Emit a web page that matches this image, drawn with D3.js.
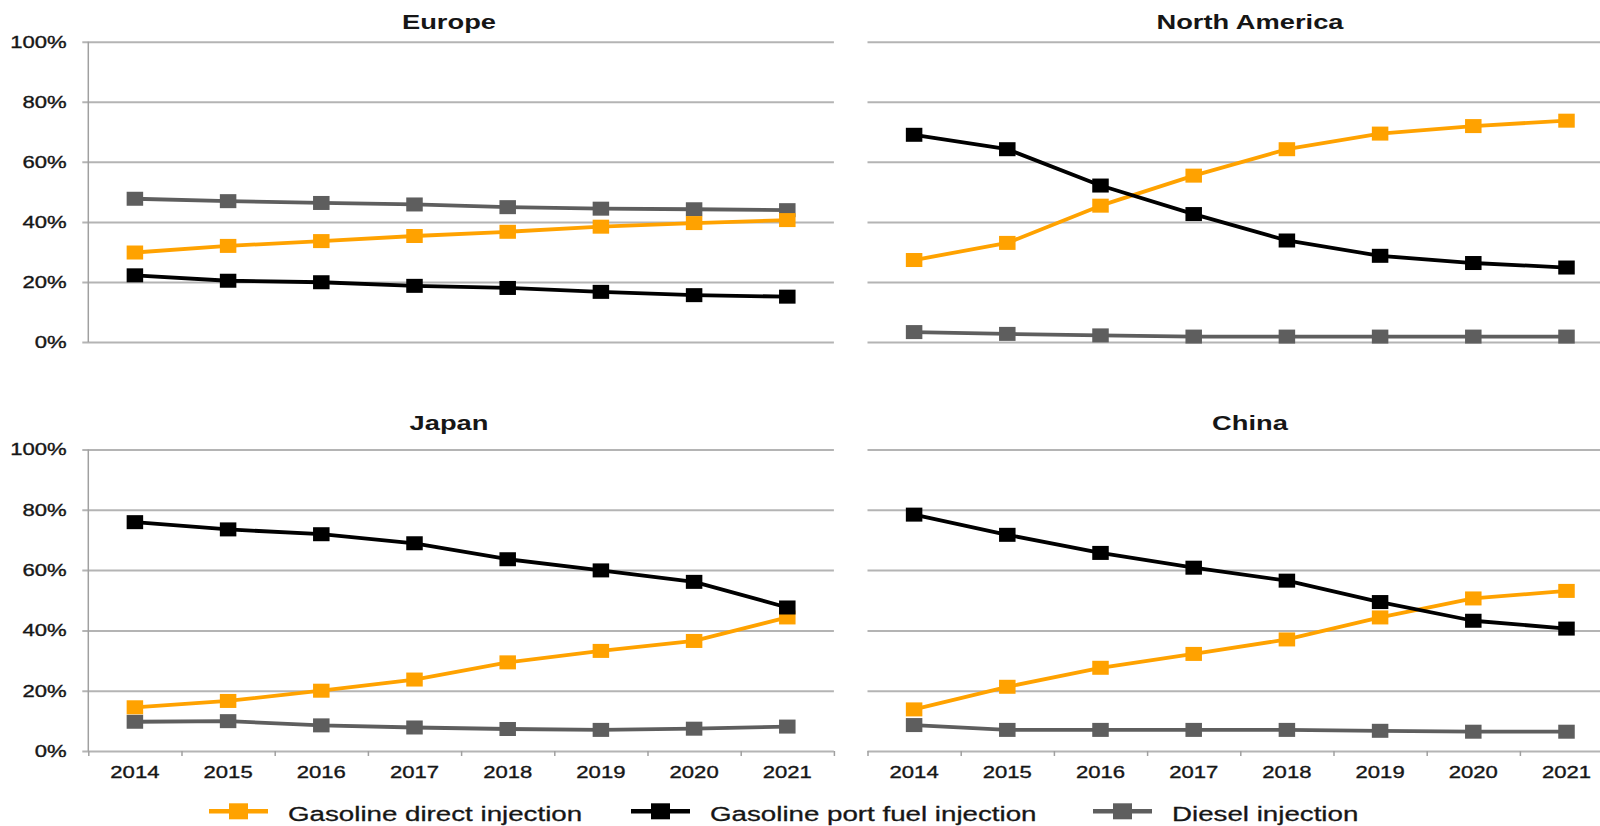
<!DOCTYPE html>
<html>
<head>
<meta charset="utf-8">
<style>
    body { margin: 0; background: #fff; }
    svg { display: block; }
    text { font-family: "Liberation Sans", Arial, sans-serif; fill: #161616; }
    .grid line { stroke: #b4b4b4; stroke-width: 2; }
    .grid .domain { display: none; }
    .ticks line { stroke: #a0a0a0; stroke-width: 1.5; }
    .ticks .domain { display: none; }
    .labels .domain { display: none; }
    .labels text { font-size: 17px; stroke: #161616; stroke-width: 0.35; }
    .title { font-size: 21px; font-weight: bold; }
    .legend-label { font-size: 21px; stroke: #161616; stroke-width: 0.3; }
</style>
</head>
<body>
<svg width="1600" height="826"></svg>

<script src="https://d3js.org/d3.v7.min.js"></script>
<script>
    // data (% of new vehicles)
    const years = [2014, 2015, 2016, 2017, 2018, 2019, 2020, 2021];
    const yTicks = [0, 20, 40, 60, 80, 100];
    const seriesNames = ["Gasoline direct injection", "Gasoline port fuel injection", "Diesel injection"];
    const seriesColors = ["#ffa200", "#000000", "#5e5e5e"];

    const europeDirect = [29.8, 32.0, 33.6, 35.3, 36.7, 38.4, 39.6, 40.6];
    const europePort = [22.2, 20.4, 19.9, 18.7, 18.0, 16.7, 15.6, 15.1];
    const europeDiesel = [47.7, 46.9, 46.3, 45.8, 44.9, 44.4, 44.2, 43.9];

    const naDirect = [27.3, 33.0, 45.4, 55.4, 64.2, 69.4, 71.9, 73.7];
    const naPort = [69.0, 64.2, 52.1, 42.6, 33.8, 28.7, 26.3, 24.8];
    const naDiesel = [3.3, 2.7, 2.2, 1.8, 1.8, 1.8, 1.8, 1.8];

    const japanDirect = [14.5, 16.6, 20.0, 23.7, 29.4, 33.2, 36.5, 44.3];
    const japanPort = [75.9, 73.5, 71.9, 68.9, 63.6, 59.9, 56.1, 47.6];
    const japanDiesel = [9.7, 9.9, 8.5, 7.8, 7.3, 7.0, 7.4, 8.1];

    const chinaDirect = [13.8, 21.3, 27.6, 32.2, 37.0, 44.3, 50.6, 53.1];
    const chinaPort = [78.4, 71.7, 65.7, 60.8, 56.5, 49.4, 43.2, 40.6];
    const chinaDiesel = [8.6, 7.0, 7.0, 7.0, 7.0, 6.7, 6.4, 6.4];

    // layout
    const stretch = 1.3; // the source picture is stretched sideways
    const colX = [88.3, 867.5];
    const panelW = 745.6;
    const rows = [{ top: 41.7, bottom: 342, titleY: 28.6 }, { top: 449.5, bottom: 751, titleY: 429.6 }];
    const titleX = [449, 1250];
    const markW = 16.5, markH = 14;

    const panels = [
        { name: "Europe", col: 0, row: 0, data: [europeDirect, europePort, europeDiesel] },
        { name: "North America", col: 1, row: 0, data: [naDirect, naPort, naDiesel] },
        { name: "Japan", col: 0, row: 1, data: [japanDirect, japanPort, japanDiesel] },
        { name: "China", col: 1, row: 1, data: [chinaDirect, chinaPort, chinaDiesel] }
    ];

    const svg = d3.select("svg");

    panels.forEach(p => {
        const x0 = colX[p.col];
        const r = rows[p.row];
        const g = svg.append("g").attr("class", "panel");

        const x = d3.scaleBand().domain(years).range([x0, x0 + panelW]);
        const y = d3.scaleLinear().domain([0, 100]).range([r.bottom, r.top]);
        const edge = d3.scaleLinear().domain([0, years.length]).range([x0, x0 + panelW]);

        const ext = p.col == 0 ? 6 : 0;

        // gridlines
        g.append("g")
            .attr("class", "grid")
            .attr("transform", `translate(${x0 + panelW},0)`)
            .call(d3.axisLeft(y).tickValues(yTicks).tickSize(panelW + ext).tickFormat(""));

        if (p.col == 0) {
            // y axis line + labels
            g.append("line")
                .attr("x1", x0).attr("x2", x0)
                .attr("y1", y(100)).attr("y2", y(0))
                .attr("stroke", "#a0a0a0").attr("stroke-width", 1.5);

            g.append("g")
                .attr("class", "labels")
                .attr("transform", `translate(${x0},0)`)
                .call(d3.axisLeft(y).tickValues(yTicks).tickSize(0).tickFormat(d => d + "%"))
                .call(a => a.selectAll("line").remove())
                .selectAll("text")
                .attr("x", -21.6 / stretch)
                .attr("transform", `scale(${stretch},1)`);
        }

        if (p.row == 1) {
            g.append("g")
                .attr("class", "ticks")
                .attr("transform", `translate(0,${r.bottom})`)
                .call(d3.axisBottom(edge).tickValues(d3.range(years.length + 1)).tickSize(5).tickFormat(""));

            g.append("g")
                .attr("class", "labels")
                .attr("transform", `translate(0,${r.bottom})`)
                .call(d3.axisBottom(x).tickSize(0).tickPadding(15))
                .selectAll("text")
                .attr("transform", `scale(${stretch},1)`);
        }

        // title
        g.append("text")
            .attr("class", "title")
            .attr("text-anchor", "middle")
            .attr("transform", `translate(${titleX[p.col]},${r.titleY}) scale(${stretch},1)`)
            .text(p.name);

        const line = d3.line()
            .x((d, i) => x(years[i]) + x.bandwidth() / 2)
            .y(d => y(d));

        // draw diesel first, then direct, then port fuel on top
        [2, 0, 1].forEach(si => {
            const vals = p.data[si];
            g.append("path")
                .datum(vals)
                .attr("fill", "none")
                .attr("stroke", seriesColors[si])
                .attr("stroke-width", 3.8)
                .attr("stroke-linejoin", "round")
                .attr("d", line);

            g.selectAll(null)
                .data(vals)
                .join("rect")
                .attr("x", (d, i) => x(years[i]) + x.bandwidth() / 2 - markW / 2)
                .attr("y", d => y(d) - markH / 2)
                .attr("width", markW)
                .attr("height", markH)
                .attr("fill", seriesColors[si]);
        });
    });

    // legend
    const legendX = [209, 631, 1093];
    const legendY = 811.3;
    const legend = svg.append("g").attr("class", "legend");
    seriesNames.forEach((name, i) => {
        const lx = legendX[i];
        legend.append("line")
            .attr("x1", lx).attr("x2", lx + 59)
            .attr("y1", legendY).attr("y2", legendY)
            .attr("stroke", seriesColors[i]).attr("stroke-width", 4.5);
        legend.append("rect")
            .attr("x", lx + 29.5 - 9.5).attr("y", legendY - 8)
            .attr("width", 19).attr("height", 16)
            .attr("fill", seriesColors[i]);
        legend.append("text")
            .attr("class", "legend-label")
            .attr("transform", `translate(${lx + 79},${legendY + 2}) scale(1.32,1)`)
            .attr("dy", "0.35em")
            .text(name);
    });
</script>
</body>
</html>
